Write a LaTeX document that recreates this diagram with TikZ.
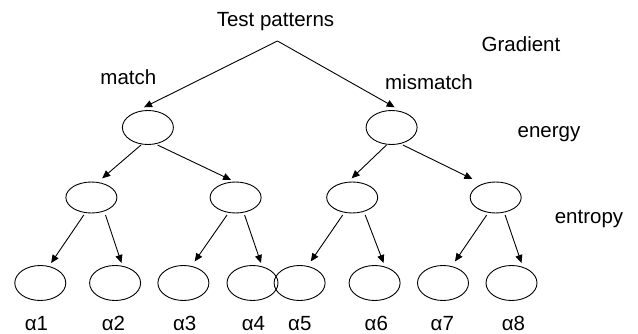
\documentclass[tikz,border=0pt]{standalone}
\usepackage{fontspec}
\setmainfont{Liberation Sans}
\usetikzlibrary{arrows.meta,calc,shapes.geometric}
\begin{document}
\begin{tikzpicture}[x=1pt,y=-1pt,
  txt/.style={font=\fontsize{20.5}{24}\selectfont,anchor=base,inner sep=0pt},
  oval/.style={ellipse,draw,line width=0.9pt,inner sep=0pt,minimum width=51pt},
  ovalA/.style={oval,minimum height=34pt},
  ovalB/.style={oval,minimum height=31pt},
  ovalC/.style={oval,minimum height=35pt},
  arr/.style={line width=0.9pt,-{Triangle[length=8pt,width=7pt]}}]
\useasboundingbox (0,0) rectangle (638,334);

% labels
\node[txt] (title)    at (275.5,26.7) {Test patterns};
\node[txt] (gradient) at (521,52)     {Gradient};
\node[txt] (match)    at (128.4,85)   {match};
\node[txt] (mismatch) at (429,89.3)   {mismatch};
\node[txt] (energy)   at (549,137.3)  {energy};
\node[txt] (entropy)  at (589,224)    {entropy};

% tree nodes
\coordinate (apex) at (277.5,41);
\node[ovalA] (m1) at (147.9,127.5) {};
\node[ovalA] (m2) at (391.6,127.5) {};

\node[ovalB] (a) at (91.4,197.5)  {};
\node[ovalB] (b) at (235.6,197.5) {};
\node[ovalB] (c) at (352.2,197.5) {};
\node[ovalB] (d) at (495.7,197.5) {};

\node[ovalC] (l1) at (40.3,283)  {};
\node[ovalC] (l2) at (115.1,283) {};
\node[ovalC] (l3) at (183.4,283) {};
\node[ovalC] (l4) at (252.5,283) {};
\node[ovalC] (l5) at (299.6,283) {};
\node[ovalC] (l6) at (374.6,283) {};
\node[ovalC] (l7) at (443,283)   {};
\node[ovalC] (l8) at (511.5,283) {};

% leaf labels
\node[txt] (t1) at (36.5,330)  {α1};
\node[txt] (t2) at (113.5,330) {α2};
\node[txt] (t3) at (184.7,330) {α3};
\node[txt] (t4) at (253.4,330) {α4};
\node[txt] (t5) at (299.8,330) {α5};
\node[txt] (t6) at (376.3,330) {α6};
\node[txt] (t7) at (442.3,330) {α7};
\node[txt] (t8) at (513.5,330) {α8};

% connectors
\draw[arr] (apex) -- ($(m1)+(-3.9,-20.2)$);
\draw[arr] (apex) -- ($(m2)+(3.1,-20.2)$);

\draw[arr] ($(m1)+(-6.9,17.5)$) -- ($(a)+(10.8,-19.2)$);
\draw[arr] ($(m1)+(9.6,17.5)$)  -- ($(b)+(-4.5,-17.5)$);
\draw[arr] ($(m2)+(-5.1,17.5)$) -- ($(c)+(-0.5,-19.2)$);
\draw[arr] ($(m2)+(11.3,17.5)$) -- ($(d)+(-23.3,-18.5)$);

\draw[arr] ($(a)+(-7.6,17.5)$) -- ($(l1)+(10.8,-20)$);
\draw[arr] ($(a)+(14.1,17.5)$) -- ($(l2)+(6.4,-20)$);
\draw[arr] ($(b)+(-8.6,17.5)$) -- ($(l3)+(11.3,-21.6)$);
\draw[arr] ($(b)+(9,17.5)$)    -- ($(l4)+(8.5,-20)$);
\draw[arr] ($(c)+(-9.5,17.5)$) -- ($(l5)+(11.2,-21.6)$);
\draw[arr] ($(c)+(13,17.5)$)   -- ($(l6)+(9,-20)$);
\draw[arr] ($(d)+(-9,17.5)$)   -- ($(l7)+(12,-21.6)$);
\draw[arr] ($(d)+(9.4,17.5)$)  -- ($(l8)+(10,-20)$);
\end{tikzpicture}
\end{document}
